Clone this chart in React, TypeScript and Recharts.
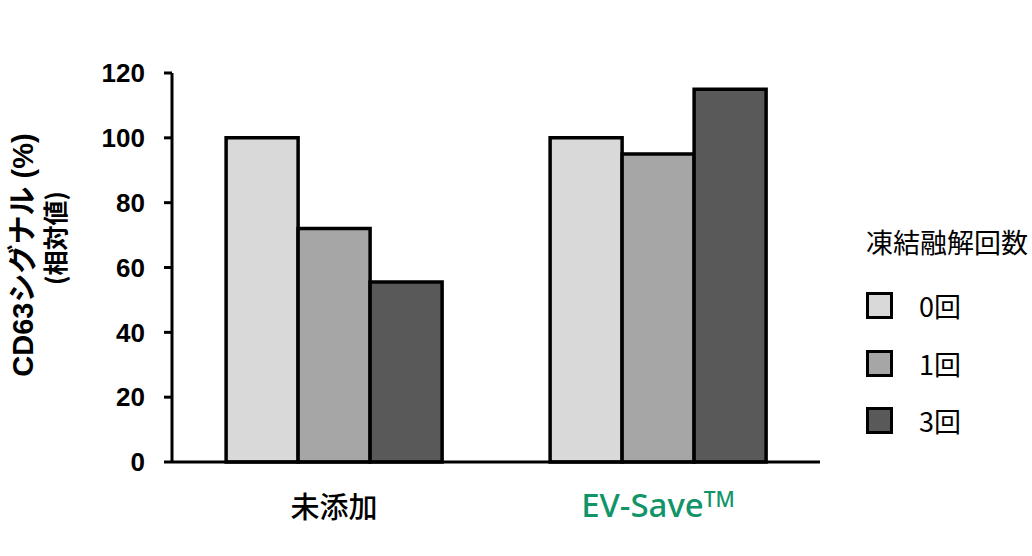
import { BarChart, Bar, XAxis, YAxis, Legend } from "recharts"

const categories = ["未添加", "EV-Save™"]
const cycles0 = [100, 100]
const cycles1 = [72, 95]
const cycles3 = [55.5, 115]
const yTicks = [0, 20, 40, 60, 80, 100, 120]
const seriesNames = ["0回", "1回", "3回"]
const seriesColors = ["#d9d9d9", "#a6a6a6", "#595959"]
const legendTitle = "凍結融解回数"
const yLabel2 = "(相対値)"

const data = categories.map((name, i) => ({
    name,
    c0: cycles0[i],
    c1: cycles1[i],
    c3: cycles3[i],
}))

const cjk = "'Noto Sans CJK JP', 'Noto Sans', sans-serif"
const arial = "'Liberation Sans', Arial, sans-serif"

function XTick({ x, y, payload }: any) {
    const label: string = payload.value
    if (label.endsWith("™")) {
        return (
            <text x={x} y={y + 47} textAnchor="middle" fontFamily="'Noto Sans', sans-serif" fontSize={33}
                fontWeight={500} fill="#119467">
                {label.slice(0, -1)}
                <tspan fontSize={21} dy={-10}>TM</tspan>
            </text>
        )
    }
    return (
        <text x={x} y={y + 48} textAnchor="middle" fontFamily={cjk} fontSize={29}
            fontWeight={500} fill="#000">
            {label}
        </text>
    )
}

function YLabel() {
    return (
        <g>
            <text x={0} y={0} transform="translate(33 255) rotate(-90)" textAnchor="middle"
                fontWeight="bold" fontSize={29} fill="#000">
                <tspan fontFamily={arial}>CD63</tspan>
                <tspan fontFamily={cjk}>シグナル</tspan>
                <tspan fontFamily={arial}> (%)</tspan>
            </text>
            <text x={0} y={0} transform="translate(65 238) rotate(-90)" textAnchor="middle"
                fontFamily={cjk} fontWeight="bold" fontSize={25} fill="#000">
                {yLabel2}
            </text>
        </g>
    )
}

function LegendBox({ payload }: any) {
    return (
        <div style={{ fontFamily: cjk, color: "#000" }}>
            <div style={{ fontSize: 27, lineHeight: "30px", marginBottom: 20, whiteSpace: "nowrap" }}>{legendTitle}</div>
            {(payload || []).map((p: any, i: number) => (
                <div key={i} style={{ display: "flex", alignItems: "center", height: 57.5 }}>
                    <div style={{ width: 21, height: 21, background: p.color, border: "3px solid #000", marginRight: 26 }} />
                    <span style={{ fontSize: 27 }}>{p.value}</span>
                </div>
            ))}
        </div>
    )
}

export default function App() {
    return (
        <div>
            <style>{`body{margin:0}`}</style>
            <BarChart width={1032} height={556} data={data}
                margin={{ top: 73, right: 212, bottom: 54, left: 0 }}
                barGap={0} barCategoryGap="16.7%">
                <XAxis dataKey="name" height={40} tickLine={false} tick={<XTick />}
                    axisLine={{ stroke: "#000", strokeWidth: 3 }} />
                <YAxis width={172} domain={[0, 120]} ticks={yTicks} interval={0}
                    tickSize={8} tickLine={{ stroke: "#000", strokeWidth: 3 }}
                    axisLine={{ stroke: "#000", strokeWidth: 3 }}
                    tick={{ fill: "#000", fontSize: 26, fontWeight: "bold", fontFamily: arial }}
                    tickMargin={19}
                    label={{ content: () => <YLabel /> }} />
                <Legend layout="horizontal" verticalAlign="top" align="left"
                    wrapperStyle={{ position: "absolute", left: 866, top: 227, width: 170, height: 0 }}
                    content={<LegendBox />} />
                <Bar dataKey="c0" name={seriesNames[0]} fill={seriesColors[0]} stroke="#000" strokeWidth={3.5} isAnimationActive={false} />
                <Bar dataKey="c1" name={seriesNames[1]} fill={seriesColors[1]} stroke="#000" strokeWidth={3.5} isAnimationActive={false} />
                <Bar dataKey="c3" name={seriesNames[2]} fill={seriesColors[2]} stroke="#000" strokeWidth={3.5} isAnimationActive={false} />
            </BarChart>
        </div>
    )
}
